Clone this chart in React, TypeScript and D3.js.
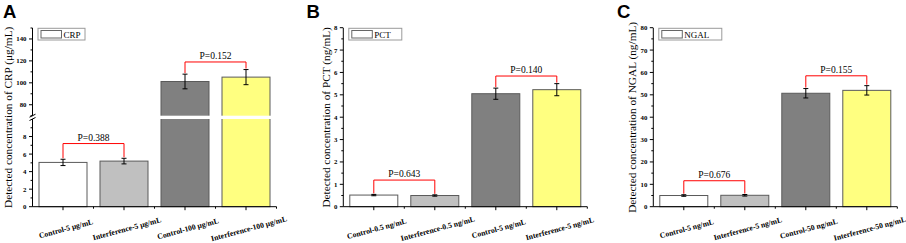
import React from "react";
import * as d3 from "d3";

// ---------- data ----------
const panelLetters = ["A", "B", "C"];
const legendNames = ["CRP", "PCT", "NGAL"];
const yTitles = [
  "Detected concentration of CRP (μg/mL)",
  "Detected concentration of PCT (ng/mL)",
  "Detected concentration of NGAL (ng/mL)",
];
const categoriesA = ["Control-5 μg/mL", "Interference-5 μg/mL", "Control-100 μg/mL", "Interference-100 μg/mL"];
const categoriesB = ["Control-0.5 ng/mL", "Interference-0.5 ng/mL", "Control-5 ng/mL", "Interference-5 ng/mL"];
const categoriesC = ["Control-5 ng/mL", "Interference-5 ng/mL", "Control-50 ng/mL", "Interference-50 ng/mL"];
const valuesA = [5.05, 5.2, 101.2, 105.2];
const errorsA = [0.36, 0.32, 6.7, 6.9];
const valuesB = [0.52, 0.5, 5.05, 5.23];
const errorsB = [0.03, 0.03, 0.25, 0.27];
const valuesC = [5.0, 5.1, 50.7, 52.0];
const errorsC = [0.35, 0.35, 2.1, 2.1];
const pLabelsA = ["P=0.388", "P=0.152"];
const pLabelsB = ["P=0.643", "P=0.140"];
const pLabelsC = ["P=0.676", "P=0.155"];
const bracketLevelsA = [7.2, 119];
const bracketLevelsB = [1.19, 5.84];
const bracketLevelsC = [11.6, 58.5];
const ticksALower = [0, 2, 4, 6, 8];
const ticksAUpper = [80, 100, 120, 140];
const minorALower = [1, 3, 5, 7, 9];
const minorAUpper = [70, 90, 110, 130, 150];
const ticksB = [0, 1, 2, 3, 4, 5, 6, 7, 8];
const minorB = [0.5, 1.5, 2.5, 3.5, 4.5, 5.5, 6.5, 7.5];
const ticksC = [0, 10, 20, 30, 40, 50, 60, 70, 80];
const minorC = [5, 15, 25, 35, 45, 55, 65, 75];
const barColors = ["#ffffff", "#c0c0c0", "#808080", "#ffff80"];

// ---------- layout ----------
const Y0 = 206.7;
const YTOP = 28;
const BREAK_LO = 119; // top of lower segment (A)
const BREAK_HI = 115.7; // bottom of upper segment (A)
const SERIF = "'Liberation Serif', 'Times New Roman', serif";

type Panel = {
  ox: number;
  letter: string;
  letterX: number;
  titleX: number;
  legend: string;
  legendW: number;
  title: string;
  cats: string[];
  vals: number[];
  errs: number[];
  pl: string[];
  bl: number[];
  y: (v: number) => number;
  ticks: number[];
  minor: number[];
  broken: boolean;
};

const lowerA = d3.scaleLinear().domain([0, 10]).range([Y0, BREAK_LO]);
const upperA = d3.scaleLinear().domain([70, 150]).range([BREAK_HI, YTOP]);
const yA = (v: number) => (v <= 10 ? lowerA(v) : upperA(v));
const yB = d3.scaleLinear().domain([0, 8]).range([Y0, 27.7]);
const yC = d3.scaleLinear().domain([0, 80]).range([Y0, 27.7]);

const panels: Panel[] = [
  { ox: 32.5, letter: panelLetters[0], letterX: 3, titleX: 8, legend: legendNames[0], legendW: 47, title: yTitles[0], cats: categoriesA, vals: valuesA, errs: errorsA, pl: pLabelsA, bl: bracketLevelsA, y: yA, ticks: [...ticksALower, ...ticksAUpper], minor: [...minorALower, ...minorAUpper], broken: true },
  { ox: 343.3, letter: panelLetters[1], letterX: 306.5, titleX: 326, legend: legendNames[1], legendW: 53, title: yTitles[1], cats: categoriesB, vals: valuesB, errs: errorsB, pl: pLabelsB, bl: bracketLevelsB, y: yB, ticks: ticksB, minor: minorB, broken: false },
  { ox: 653.3, letter: panelLetters[2], letterX: 617, titleX: 632, legend: legendNames[2], legendW: 63, title: yTitles[2], cats: categoriesC, vals: valuesC, errs: errorsC, pl: pLabelsC, bl: bracketLevelsC, y: yC, ticks: ticksC, minor: minorC, broken: false },
];

function PanelView({ p }: { p: Panel }) {
  const x = d3.scaleLinear().domain([0.5, 4.5]).range([p.ox, p.ox + 244]);
  const bw = 48;
  const y = p.y;
  const midY = (Y0 + YTOP) / 2;
  const brackets = [
    [0, 1],
    [2, 3],
  ];
  return (
    <g>
      <text x={p.letterX} y={18} fontFamily="'Liberation Sans', Arial, sans-serif" fontWeight="bold" fontSize={18.5} fill="#000">
        {p.letter}
      </text>
      <text
        transform={`translate(${p.titleX},${midY}) rotate(-90)`}
        textAnchor="middle"
        dominantBaseline="central"
        fontFamily={SERIF}
        fontSize={11.3}
        fill="#000"
      >
        {p.title}
      </text>
      {/* bars */}
      {p.vals.map((v, i) => (
        <rect
          key={"b" + i}
          x={x(i + 1) - bw / 2}
          y={y(v)}
          width={bw}
          height={Y0 - y(v)}
          fill={barColors[i]}
          stroke="#5a5a5a"
          strokeWidth={1}
        />
      ))}
      {p.broken &&
        p.vals.map((v, i) =>
          v > 10 ? (
            <rect key={"g" + i} x={x(i + 1) - bw / 2 - 1} y={BREAK_HI} width={bw + 2} height={BREAK_LO - BREAK_HI} fill="#fff" />
          ) : null
        )}
      {/* error bars */}
      {p.vals.map((v, i) => {
        const cx = x(i + 1);
        const t = y(v + p.errs[i]);
        const b = y(v - p.errs[i]);
        return (
          <g key={"e" + i} stroke="#000" strokeWidth={1}>
            <line x1={cx} x2={cx} y1={t} y2={b} />
            <line x1={cx - 2.5} x2={cx + 2.5} y1={t} y2={t} />
            <line x1={cx - 2.5} x2={cx + 2.5} y1={b} y2={b} />
          </g>
        );
      })}
      {/* significance brackets */}
      {brackets.map(([a, b], k) => {
        const hy = y(p.bl[k]);
        const xa = x(a + 1);
        const xb = x(b + 1);
        const ya = y(p.vals[a] + p.errs[a]) - 1;
        const yb = y(p.vals[b] + p.errs[b]) - 1;
        return (
          <g key={"s" + k}>
            <path d={`M${xa},${ya}V${hy}H${xb}V${yb}`} fill="none" stroke="#ff0000" strokeWidth={1} />
            <text x={(xa + xb) / 2} y={hy - 3} textAnchor="middle" fontFamily={SERIF} fontSize={9.5} fill="#000">
              {p.pl[k]}
            </text>
          </g>
        );
      })}
      {/* y axis */}
      {p.broken ? (
        <g stroke="#000" strokeWidth={1}>
          <line x1={p.ox} x2={p.ox} y1={Y0} y2={BREAK_LO} />
          <line x1={p.ox} x2={p.ox} y1={BREAK_HI} y2={YTOP} />
          <line x1={p.ox - 3} x2={p.ox + 3} y1={BREAK_LO + 1.5} y2={BREAK_LO - 1.5} />
          <line x1={p.ox - 3} x2={p.ox + 3} y1={BREAK_HI + 1.5} y2={BREAK_HI - 1.5} />
        </g>
      ) : (
        <line x1={p.ox} x2={p.ox} y1={Y0} y2={YTOP} stroke="#000" strokeWidth={1} />
      )}
      {p.ticks.map((t) => (
        <g key={"t" + t}>
          <line x1={p.ox - 3.5} x2={p.ox} y1={y(t)} y2={y(t)} stroke="#000" strokeWidth={1} />
          <text x={p.ox - 6} y={y(t)} textAnchor="end" dominantBaseline="central" fontFamily={SERIF} fontWeight="bold" fontSize={6.8} fill="#000">
            {t}
          </text>
        </g>
      ))}
      {p.minor.map((t) => (
        <line key={"m" + t} x1={p.ox - 2} x2={p.ox} y1={y(t)} y2={y(t)} stroke="#000" strokeWidth={1} />
      ))}
      {/* x axis */}
      <line x1={p.ox} x2={p.ox + 244} y1={Y0} y2={Y0} stroke="#000" strokeWidth={1} />
      {p.cats.map((c, i) => (
        <g key={"c" + i}>
          <line x1={x(i + 1)} x2={x(i + 1)} y1={Y0} y2={Y0 + 3.5} stroke="#000" strokeWidth={1} />
          <line x1={x(i + 1.5)} x2={x(i + 1.5)} y1={Y0} y2={Y0 + 2} stroke="#000" strokeWidth={1} />
          <text
            transform={`translate(${x(i + 1) + 3},${Y0 + 22}) rotate(-15)`}
            textAnchor="middle"
            dominantBaseline="central"
            fontFamily={SERIF}
            fontWeight="bold"
            fontSize={7.7}
            fill="#000"
          >
            {c}
          </text>
        </g>
      ))}
      {/* legend */}
      <rect x={p.ox + 5.5} y={28.3} width={p.legendW} height={11.7} fill="#fff" stroke="#9a9a9a" strokeWidth={1} />
      <rect x={p.ox + 8.5} y={30.5} width={20.5} height={7.5} fill="#fff" stroke="#666" strokeWidth={1} />
      <text x={p.ox + 31} y={34.5} dominantBaseline="central" fontFamily={SERIF} fontSize={9} fill="#000">
        {p.legend}
      </text>
    </g>
  );
}

export default function App() {
  return (
    <svg
      width={906}
      height={243}
      viewBox="0 0 906 243"
      style={{ position: "absolute", left: 0, top: 0, background: "#fff" }}
    >
      <rect width={906} height={243} fill="#fff" />
      {panels.map((p, i) => (
        <PanelView key={i} p={p} />
      ))}
    </svg>
  );
}
